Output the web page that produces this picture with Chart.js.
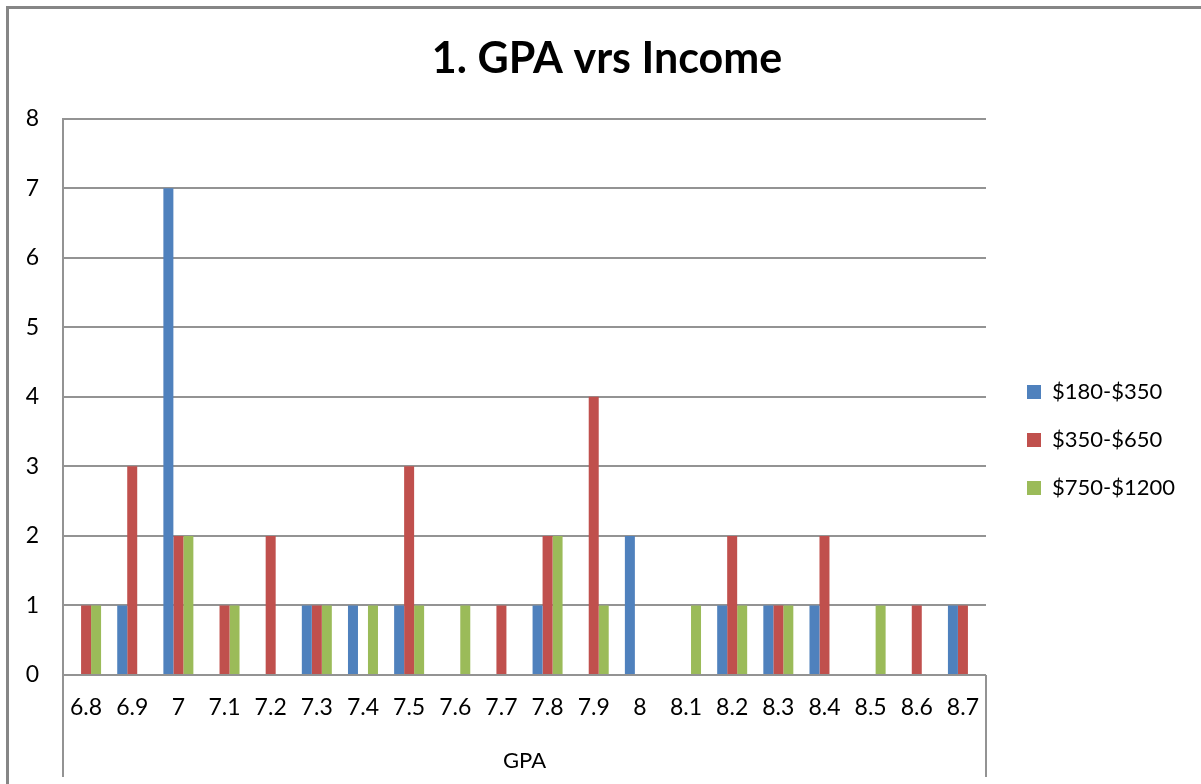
<!DOCTYPE html>
<html>
<head>
<meta charset="utf-8">
<title>1. GPA vrs Income</title>
<script src="https://cdn.jsdelivr.net/npm/chart.js@4.4.1/dist/chart.umd.min.js"></script>
<style>
  html, body { margin: 0; padding: 0; background: #ffffff; overflow: hidden; }
  #wrap { position: relative; width: 1201px; height: 784px; }
  #chart { display: block; }
  #frame {
    position: absolute; left: 6px; top: 6px;
    width: 1300px; height: 900px;
    border: 3px solid #868686;
    pointer-events: none;
  }
</style>
</head>
<body>
<div id="wrap">
  <canvas id="chart" width="1201" height="784"></canvas>
  <div id="frame"></div>
</div>
<script>
// GPA buckets along the category axis
const gpaLabels = ['6.8', '6.9', '7', '7.1', '7.2', '7.3', '7.4', '7.5', '7.6', '7.7',
                   '7.8', '7.9', '8', '8.1', '8.2', '8.3', '8.4', '8.5', '8.6', '8.7'];

// Number of students per GPA, by monthly income band
const income180to350  = [0, 1, 7, 0, 0, 1, 1, 1, 0, 0, 1, 0, 2, 0, 1, 1, 1, 0, 0, 1];
const income350to650  = [1, 3, 2, 1, 2, 1, 0, 3, 0, 1, 2, 4, 0, 0, 2, 1, 2, 0, 1, 1];
const income750to1200 = [1, 0, 2, 1, 0, 1, 1, 1, 1, 0, 2, 1, 0, 1, 1, 1, 0, 1, 0, 0];

const seriesNames = ['$180-$350', '$350-$650', '$750-$1200'];
const yTickValues = [0, 1, 2, 3, 4, 5, 6, 7, 8];

const AXIS_GREY = '#939393';
const PLOT_RIGHT = 986;      // right edge of the plotting area
const LEGEND_LEFT = 1001;    // left edge of the legend block
const LEGEND_MID_Y = 440;    // vertical centre of the legend items

Chart.defaults.font.family = 'Lato, "Open Sans", sans-serif';
Chart.defaults.color = '#000000';

// Draws the box edges of the category band below the zero line
const categoryFrame = {
  id: 'categoryFrame',
  afterDraw(chart) {
    const { ctx, chartArea, scales } = chart;
    const xs = scales.x;
    ctx.save();
    ctx.strokeStyle = AXIS_GREY;
    ctx.lineWidth = 2;
    ctx.beginPath();
    ctx.moveTo(chartArea.left, chartArea.bottom);
    ctx.lineTo(chartArea.left, xs.bottom);
    ctx.moveTo(chartArea.right, chartArea.bottom);
    ctx.lineTo(chartArea.right, xs.bottom);
    ctx.stroke();
    ctx.restore();
  }
};

// Moves the legend block next to the plot, centred on the item column
const legendPlacer = {
  id: 'legendPlacer',
  afterLayout(chart) {
    const lg = chart.legend;
    if (!lg) return;
    const w = lg.right - lg.left;
    lg.left = LEGEND_LEFT;
    lg.right = LEGEND_LEFT + w;
    const dy = LEGEND_MID_Y - (lg.top + lg.bottom) / 2;
    lg.top += dy;
    lg.bottom += dy;
  }
};

new Chart(document.getElementById('chart'), {
  type: 'bar',
  data: {
    labels: gpaLabels,
    datasets: [
      { label: seriesNames[0], data: income180to350,  backgroundColor: '#4F81BD' },
      { label: seriesNames[1], data: income350to650,  backgroundColor: '#C0504D' },
      { label: seriesNames[2], data: income750to1200, backgroundColor: '#9BBB59' }
    ]
  },
  options: {
    responsive: false,
    animation: false,
    events: [],
    layout: { padding: { left: 13, right: 0, top: 0, bottom: 7 } },
    datasets: {
      bar: { categoryPercentage: 0.65, barPercentage: 1.0, borderWidth: 0 }
    },
    plugins: {
      title: {
        display: true,
        text: '1. GPA vrs Income',
        font: { size: 43, weight: 'bold' },
        color: '#000000',
        padding: { top: 33, bottom: 34 }
      },
      legend: {
        position: 'right',
        labels: {
          boxWidth: 14,
          boxHeight: 14,
          padding: 26,
          font: { size: 22 },
          color: '#000000'
        }
      },
      tooltip: { enabled: false }
    },
    scales: {
      x: {
        grid: { display: false, drawTicks: false },
        border: { display: false },
        ticks: { font: { size: 23 }, padding: 19, maxRotation: 0, autoSkip: false, color: '#000000' },
        title: { display: true, text: 'GPA', font: { size: 22 }, color: '#000000', padding: { top: 0, bottom: 3 } },
        afterFit(scale) { scale.height = 102; }
      },
      y: {
        min: 0,
        max: 8,
        afterBuildTicks(scale) { scale.ticks = yTickValues.map(v => ({ value: v })); },
        ticks: { font: { size: 23 }, padding: 24, color: '#000000' },
        grid: { color: AXIS_GREY, lineWidth: 2, drawTicks: false },
        border: { display: true, color: AXIS_GREY, width: 2 },
        afterFit(scale) { scale.width = 50; }
      },
      gap: {
        position: 'right',
        display: true,
        grid: { display: false, drawTicks: false },
        border: { display: false },
        ticks: { display: false },
        afterFit(scale) {
          const lgw = scale.chart.legend ? scale.chart.legend.width : 0;
          scale.width = Math.max(0, scale.chart.width - lgw - PLOT_RIGHT);
        }
      }
    }
  },
  plugins: [categoryFrame, legendPlacer]
});
</script>
</body>
</html>
